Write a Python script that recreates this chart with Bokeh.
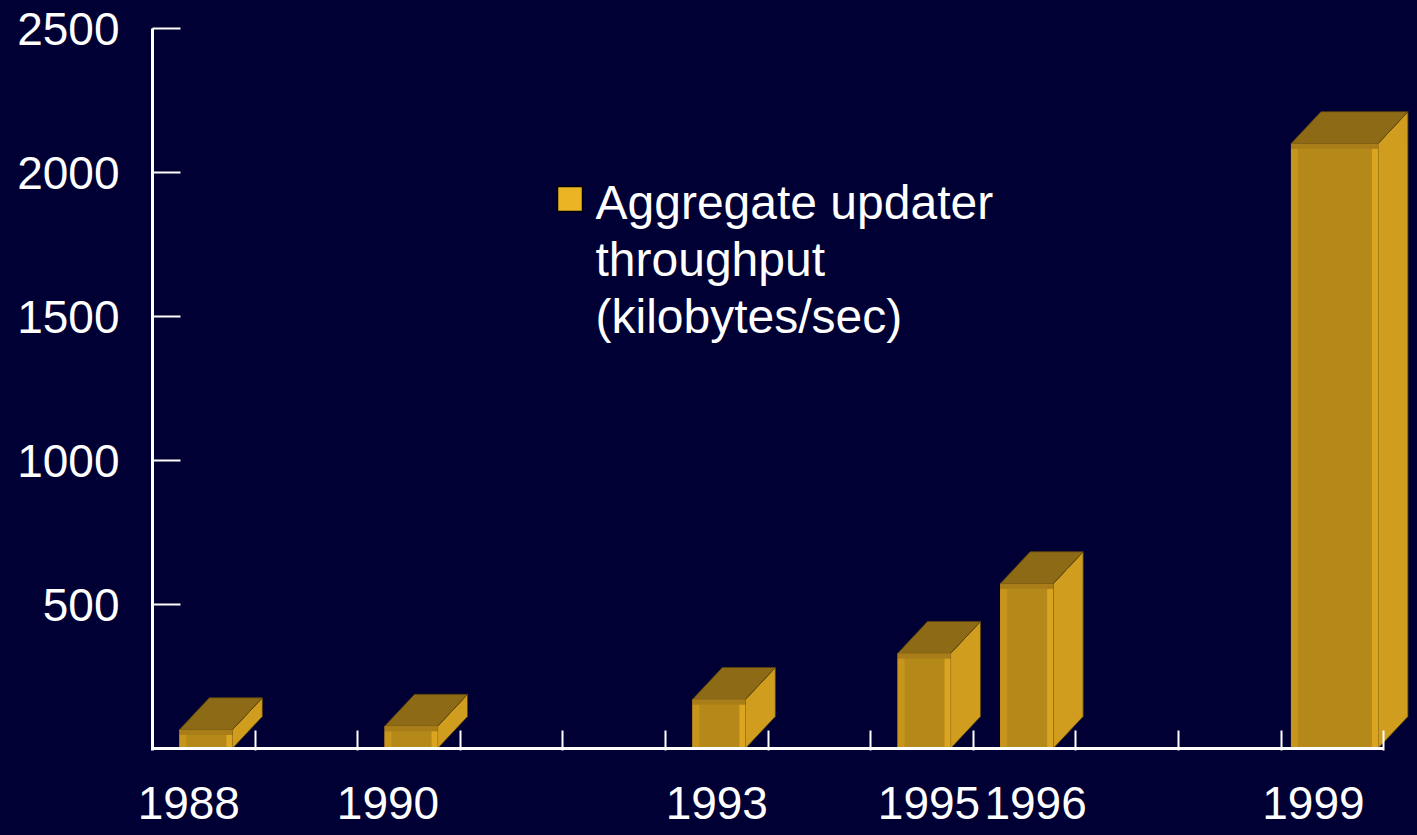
from bokeh.plotting import figure
from bokeh.models import Range1d, FixedTicker, Label
from bokeh.embed import file_html
from bokeh.resources import INLINE

# ---- data ----
slots = ["1988", "1989", "1990", "1991", "1992", "1993",
         "1994", "1995", "1996", "1997", "1998", "1999"]
years = ["1988", "1990", "1993", "1995", "1996", "1999"]
throughput = [65, 77, 170, 330, 572, 2100]
y_ticks = [500, 1000, 1500, 2000, 2500]
legend_text = "Aggregate updater\nthroughput\n(kilobytes/sec)"

# ---- styles ----
BG = "#000035"
FONT = "Liberation Sans"
FRONT = "#B5881A"
STRIP_L = "#C8951C"
STRIP_R = "#DCA520"
BAND = "#A97D18"
SIDE = "#D09D1F"
TOP = "#8D6A15"
EDGE = "#5A420C"
KEY = "#EAB424"

PX_X = 102.6   # pixels per year slot
PX_Y = 0.288   # pixels per kB/s
FW, FH = 1263, 722

p = figure(frame_width=FW, frame_height=FH,
           min_border_left=152, min_border_top=28,
           min_border_bottom=85, min_border_right=2,
           x_range=Range1d(0, FW / PX_X),
           y_range=Range1d(2500 - FH / PX_Y, 2500),
           output_backend="svg", toolbar_location=None,
           background_fill_color=BG, border_fill_color=BG,
           outline_line_color=None)
p.grid.visible = False

idx = {s: i for i, s in enumerate(slots)}
centers = [idx[y] + 0.52 for y in years]
widths = [(87 if y == "1999" else 53) / PX_X for y in years]
lefts = [c - w / 2 for c, w in zip(centers, widths)]
rights = [c + w / 2 for c, w in zip(centers, widths)]
dx = 30 / PX_X
dy = 32 / PX_Y
band = 5 / PX_Y

# side faces
p.patches(xs=[[r, r + dx, r + dx, r] for r in rights],
          ys=[[0, dy, v + dy, v] for v in throughput],
          fill_color=SIDE, line_color=EDGE, line_width=0.8)
# top faces
p.patches(xs=[[l, l + dx, r + dx, r] for l, r in zip(lefts, rights)],
          ys=[[v, v + dy, v + dy, v] for v in throughput],
          fill_color=TOP, line_color=EDGE, line_width=0.8)
# front faces
p.quad(left=lefts, right=rights, bottom=0, top=throughput,
       fill_color=FRONT, line_color=None)
p.quad(left=lefts, right=[l + 7 / PX_X for l in lefts], bottom=0,
       top=[v - band for v in throughput], fill_color=STRIP_L, line_color=None)
p.quad(left=[r - 6 / PX_X for r in rights], right=rights, bottom=0,
       top=[v - band for v in throughput], fill_color=STRIP_R, line_color=None)
p.quad(left=lefts, right=rights, bottom=[v - band for v in throughput],
       top=throughput, fill_color=BAND, line_color=None)

# x axis baseline
p.segment(x0=[0], y0=[0], x1=[len(slots)], y1=[0], line_color="white", line_width=3)

# y axis
ya = p.yaxis[0]
ya.ticker = FixedTicker(ticks=y_ticks)
ya.axis_line_color = "white"
ya.axis_line_width = 3
ya.major_tick_in = 28
ya.major_tick_out = 0
ya.major_tick_line_color = "white"
ya.major_tick_line_width = 2
ya.minor_tick_line_color = None
ya.major_label_text_font = FONT
ya.major_label_text_font_size = "46px"
ya.major_label_text_color = "white"
ya.major_label_standoff = 33

# x axis (labels slightly nudged like the original slide)
nudge_px = {"1988": -15, "1990": -21, "1993": 0, "1995": 7, "1996": 11, "1999": -19}
xa = p.xaxis[0]
label_ticks = [idx[y] + 0.5 + nudge_px[y] / PX_X for y in years]
xa.ticker = FixedTicker(ticks=label_ticks, minor_ticks=list(range(1, len(slots) + 1)))
xa.major_label_overrides = {t: y for t, y in zip(label_ticks, years)}
xa.axis_line_color = None
xa.major_tick_line_color = None
xa.minor_tick_in = 20
xa.minor_tick_out = 0
xa.minor_tick_line_color = "white"
xa.minor_tick_line_width = 2
xa.major_label_text_font = FONT
xa.major_label_text_font_size = "46px"
xa.major_label_text_color = "white"
xa.major_label_standoff = 30

# legend
p.quad(left=[(557 - 152) / PX_X], right=[(582 - 152) / PX_X],
       top=[(748 - 186) / PX_Y], bottom=[(748 - 211) / PX_Y],
       fill_color=KEY, line_color="black", line_width=1.5)
p.add_layout(Label(x=(595 - 152) / PX_X, y=(748 - 175) / PX_Y, text=legend_text,
                   text_font=FONT, text_font_size="48px", text_color="white",
                   text_baseline="top", text_align="left", text_line_height=1.08))

html = file_html(p, INLINE)
html = html.replace("<head>", "<head><style>html,body{background:%s;}</style>" % BG, 1)
open("out.html", "w").write(html)
